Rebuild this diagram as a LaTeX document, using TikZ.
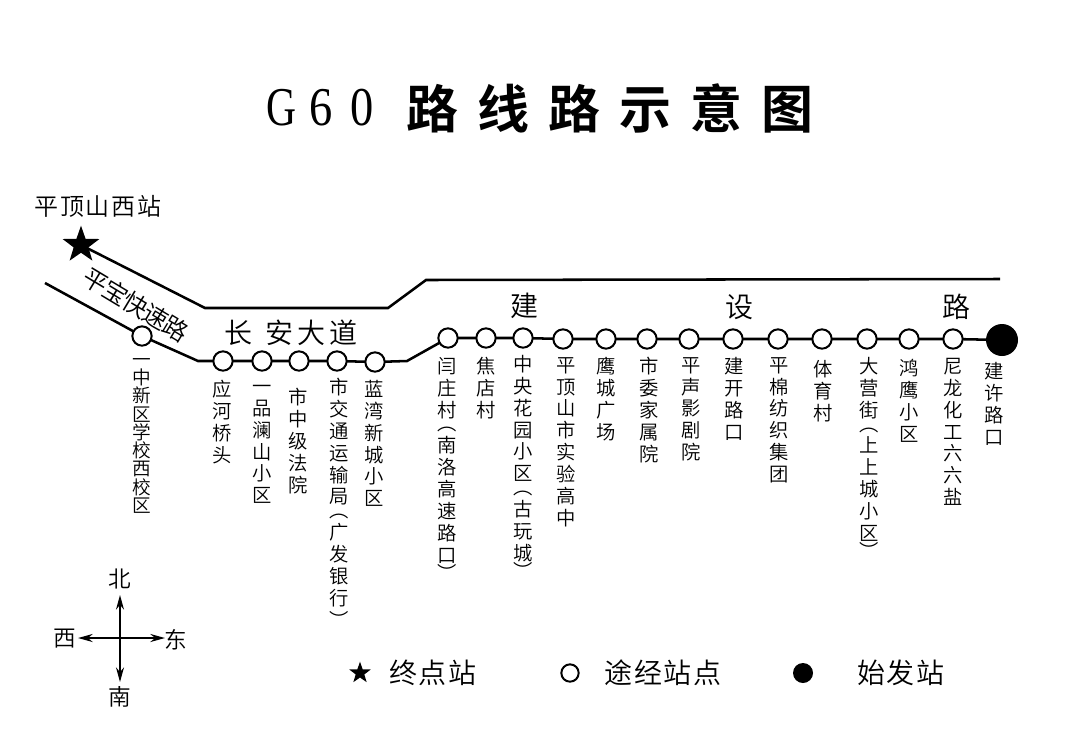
\documentclass[tikz,border=0pt]{standalone}
\usepackage{fontspec}
\usepackage{graphicx}
\usetikzlibrary{shapes.geometric,arrows.meta,backgrounds}
\setmainfont{Noto Sans CJK SC DemiLight}
\newfontfamily\cjkb{Noto Sans CJK SC Bold}
\newfontfamily\latinser{Liberation Serif}
\newcommand{\fsz}[2]{\fontsize{#1}{#2}\selectfont}
\tikzset{
 stn/.style={circle,draw=black,fill=white,line width=1.5pt,minimum size=14.5pt,inner sep=0pt,outer sep=0pt},
 endstn/.style={circle,fill=black,minimum size=24pt,inner sep=0pt,outer sep=0pt},
 termstar/.style={star,star points=5,star point ratio=2.5,fill=black,inner sep=0pt,outer sep=0pt},
 vlabel/.style={anchor=north,inner sep=0pt,align=center,font=\fsz{14.5}{16.4}},
 vtight/.style={anchor=north,inner sep=0pt,align=center,font=\fsz{14}{13.7}},
 route/.style={line width=1.9pt,line join=miter},
 road/.style={inner sep=0pt,font=\fsz{21}{24}},
 legend/.style={inner sep=0pt,font=\fsz{21}{24}\addfontfeature{LetterSpace=7}},
 compass/.style={inner sep=0pt,font=\fsz{17}{20}},
 comparrow/.style={line width=1.1pt,{Stealth[length=11pt,width=6pt]}-{Stealth[length=11pt,width=6pt]}}
}
\begin{document}
\begin{tikzpicture}[x=0.75pt,y=-0.75pt]
\useasboundingbox (0,0) rectangle (1080,753);
% title
\node[inner sep=0pt] (tg) at (281,108) {\scalebox{.76}[1]{\latinser\fsz{41}{44}G}};
\node[inner sep=0pt] (t6) at (321,108) {\scalebox{.85}[1]{\latinser\fsz{41}{44}6}};
\node[inner sep=0pt] (t0) at (362,108) {\scalebox{.85}[1]{\latinser\fsz{41}{44}0}};
\node[inner sep=0pt,font=\cjkb\fsz{39}{44}\addfontfeature{LetterSpace=36.5}] (title) at (610,108) {路线路示意图};
% stations
\node[termstar,minimum size=29pt] (xi) at (81,245) {};
\node[stn] (s1) at (142,336) {};
\node[stn] (s2) at (223,361) {};
\node[stn] (s3) at (262,361) {};
\node[stn] (s4) at (299,361) {};
\node[stn] (s5) at (337,361) {};
\node[stn] (s6) at (375,362) {};
\node[stn] (s7) at (448,338) {};
\node[stn] (s8) at (486,338) {};
\node[stn] (s9) at (523,338) {};
\node[stn] (s10) at (563,339) {};
\node[stn] (s11) at (606,339) {};
\node[stn] (s12) at (647,339) {};
\node[stn] (s13) at (689,339) {};
\node[stn] (s14) at (733,339) {};
\node[stn] (s15) at (778,339) {};
\node[stn] (s16) at (822,339) {};
\node[stn] (s17) at (867,339) {};
\node[stn] (s18) at (909,339) {};
\node[stn] (s19) at (953,339) {};
\node[endstn] (s20) at (1002,340) {};
\coordinate (lstart) at (45,283);
\coordinate (lb1) at (198,361);
\coordinate (lb2) at (407,361);
\coordinate (ub1) at (205,308);
\coordinate (ub2) at (388,308);
\coordinate (ub3) at (426,280);
\coordinate (uend) at (1000,279);
\begin{pgfonlayer}{background}
\draw[route] (lstart) -- (s1.center) -- (lb1) -- (s2.center) -- (s3.center) -- (s4.center) -- (s5.center) -- (s6.center) -- (lb2) -- (s7.center) -- (s8.center) -- (s9.center) -- (s10.center) -- (s11.center) -- (s12.center) -- (s13.center) -- (s14.center) -- (s15.center) -- (s16.center) -- (s17.center) -- (s18.center) -- (s19.center) -- (s20.center);
\draw[route] (xi.center) -- (ub1) -- (ub2) -- (ub3) -- (uend);
\end{pgfonlayer}
% road labels
\node[inner sep=0pt,font=\fsz{18}{20}\addfontfeature{LetterSpace=8}] (xn) at (98,206) {平顶山西站};
\node[inner sep=0pt,rotate=-31,font=\fsz{18.5}{20}\addfontfeature{LetterSpace=-5}] (pb) at (136,305) {平宝快速路};
\node[road] (c1) at (238,333) {长};
\node[road] (c2) at (279,333) {安};
\node[road] (c3) at (311,333) {大};
\node[road] (c4) at (343,333) {道};
\node[road] (j1) at (524,306) {建};
\node[road] (j2) at (739,307) {设};
\node[road] (j3) at (956,307) {路};
% station labels
\node[vtight] (l1) at (142,358) {一\\中\\新\\区\\学\\校\\西\\校\\区};
\node[vlabel] (l2) at (222,380) {应\\河\\桥\\头};
\node[vlabel] (l3) at (262,385) {一\\品\\澜\\山\\小\\区};
\node[vlabel] (l4) at (298,388) {市\\中\\级\\法\\院};
\node[vlabel] (l5) at (339,378) {市\\交\\通\\运\\输\\局\\[-6pt]︵\\广\\发\\银\\行\\︶};
\node[vlabel] (l6) at (374,380) {蓝\\湾\\新\\城\\小\\区};
\node[vlabel] (l7) at (447,357) {闫\\庄\\村\\[-6pt]︵\\南\\洛\\高\\速\\路\\口\\[-3pt]︶};
\node[vlabel] (l8) at (486,357) {焦\\店\\村};
\node[vlabel] (l9) at (523,355) {中\\央\\花\\园\\小\\区\\[-6pt]︵\\古\\玩\\城\\[-3pt]︶};
\node[vlabel] (l10) at (566,357) {平\\顶\\山\\市\\实\\验\\高\\中};
\node[vlabel] (l11) at (606,357) {鹰\\城\\广\\场};
\node[vlabel] (l12) at (649,357) {市\\委\\家\\属\\院};
\node[vlabel] (l13) at (691,357) {平\\声\\影\\剧\\院};
\node[vlabel] (l14) at (734,357) {建\\开\\路\\口};
\node[vlabel] (l15) at (779,357) {平\\棉\\纺\\织\\集\\团};
\node[vlabel] (l16) at (823,360) {体\\育\\村};
\node[vlabel] (l17) at (869,357) {大\\营\\街\\[-6pt]︵\\上\\上\\城\\小\\区\\[-3pt]︶};
\node[vlabel] (l18) at (909,359) {鸿\\鹰\\小\\区};
\node[vlabel] (l19) at (953,358) {尼\\龙\\化\\工\\六\\六\\盐};
\node[vlabel] (l20) at (994,362) {建\\许\\路\\口};
% compass
\coordinate (cn) at (120,595);
\coordinate (cs) at (120,682);
\coordinate (cw) at (78,638);
\coordinate (ce) at (165,638);
\draw[comparrow] (cs) -- (cn);
\draw[comparrow,line width=1.6pt] (cw) -- (ce);
\node[compass] (nn) at (120,579) {北};
\node[compass] (ns) at (120,697) {南};
\node[compass] (nw) at (65,639) {西};
\node[compass] (ne) at (176,640) {东};
% legend
\node[termstar,minimum size=17pt] (lgs) at (360,673) {};
\node[legend] (lgst) at (433,673) {终点站};
\node[stn,minimum size=13pt] (lgc) at (570,673) {};
\node[legend] (lgct) at (663,673) {途经站点};
\node[endstn,minimum size=15pt] (lgb) at (803,673) {};
\node[legend] (lgbt) at (901,673) {始发站};
\end{tikzpicture}
\end{document}
